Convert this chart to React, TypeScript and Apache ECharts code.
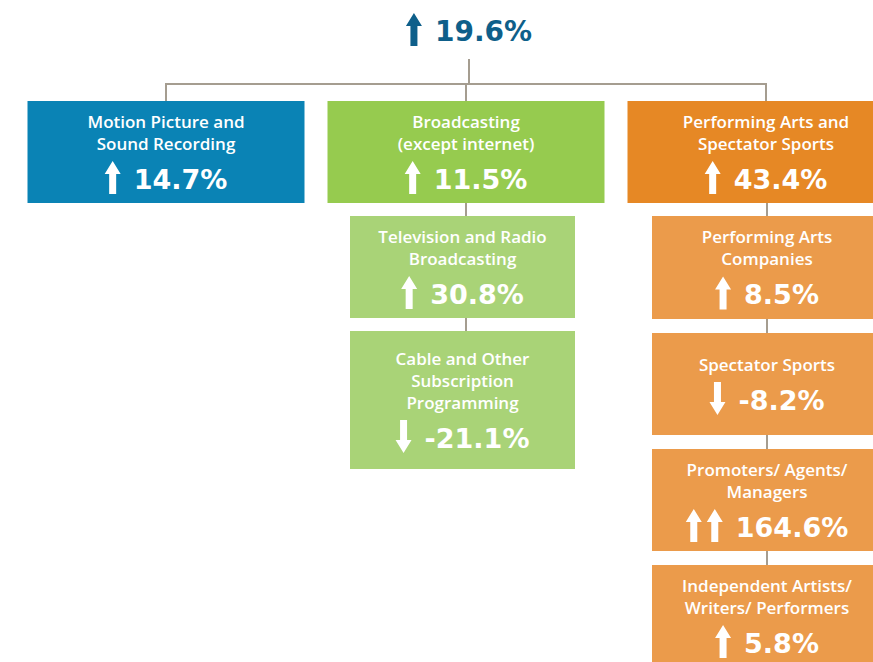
import React, { useEffect, useRef } from "react";
import * as echarts from "echarts";

// ---- data ----
const totalChange = 19.6;
const sectorNames = ["Motion Picture and\nSound Recording", "Broadcasting\n(except internet)", "Performing Arts and\nSpectator Sports"];
const sectorChanges = [14.7, 11.5, 43.4];
const broadcastingNames = ["Television and Radio\nBroadcasting", "Cable and Other\nSubscription\nProgramming"];
const broadcastingChanges = [30.8, -21.1];
const performingNames = ["Performing Arts\nCompanies", "Spectator Sports", "Promoters/ Agents/\nManagers", "Independent Artists/\nWriters/ Performers"];
const performingChanges = [8.5, -8.2, 164.6, 5.8];

// ---- style / layout ----
const LABEL_FONT = "'Open Sans', sans-serif";
const PCT_FONT = "'DejaVu Sans', sans-serif";
const LINE_COLOR = "#A59D90";
const TOTAL_COLOR = "#0E5F8A";
const sectorColors = ["#0A83B5", "#96CB4F", "#E68825"];
const subColors = ["#A9D377", "#EB9B4B"];

function measure(text: string, font: string) {
  const c = document.createElement("canvas").getContext("2d")!;
  c.font = font;
  return c.measureText(text).width;
}

function arrow(cx: number, y0: number, y1: number, up: boolean, color: string) {
  const hh = 13, hw = 8, sw = 3.5;
  let pts: number[][];
  if (up) {
    pts = [[cx, y0], [cx + hw, y0 + hh], [cx + sw, y0 + hh], [cx + sw, y1], [cx - sw, y1], [cx - sw, y0 + hh], [cx - hw, y0 + hh]];
  } else {
    pts = [[cx, y1], [cx + hw, y1 - hh], [cx + sw, y1 - hh], [cx + sw, y0], [cx - sw, y0], [cx - sw, y1 - hh], [cx - hw, y1 - hh]];
  }
  return { type: "polygon", shape: { points: pts }, style: { fill: color } };
}

function pctLabel(v: number) {
  return v.toFixed(1) + "%";
}

function valueRow(cx: number, cy: number, v: number, color: string, fontSize: number) {
  const txt = pctLabel(v);
  const font = `bold ${fontSize}px ${PCT_FONT}`;
  const tw = measure(txt, font);
  const nArrows = Math.abs(v) >= 100 ? 2 : 1;
  const aw = 16, aGap = 5, gap = 13;
  const arrowsW = nArrows * aw + (nArrows - 1) * aGap;
  const total = arrowsW + gap + tw;
  const left = cx - total / 2;
  const els: any[] = [];
  for (let i = 0; i < nArrows; i++) {
    const ax = left + aw / 2 + i * (aw + aGap);
    els.push(arrow(ax, cy - 17, cy + 16, v >= 0, color));
  }
  els.push({
    type: "text",
    x: left + arrowsW + gap,
    y: cy + 1,
    style: { text: txt, font, fill: color, textAlign: "left", textVerticalAlign: "middle" },
  });
  return els;
}

function box(x: number, y: number, w: number, h: number, fill: string, name: string, v: number) {
  const lines = name.split("\n");
  const n = lines.length;
  const blockH = 40 + 22 * n;
  const top = y + (h - blockH) / 2;
  const cx = x + w / 2;
  const els: any[] = [{ type: "rect", shape: { x, y, width: w, height: h }, style: { fill } }];
  lines.forEach((ln, i) => {
    els.push({
      type: "text",
      x: cx,
      y: top + 11 + 22 * i,
      style: { text: ln, font: `600 17px ${LABEL_FONT}`, fill: "#fff", textAlign: "center", textVerticalAlign: "middle" },
    });
  });
  const pc = top + 11 + 22 * (n - 1) + 35;
  els.push(...valueRow(cx, pc, v, "#fff", 27));
  return els;
}

function line(x1: number, y1: number, x2: number, y2: number) {
  return { type: "line", shape: { x1, y1, x2, y2 }, style: { stroke: LINE_COLOR, lineWidth: 2 } };
}

function buildGraphics() {
  const els: any[] = [];
  const colCenters = [166, 466, 766];
  const topY = 101, topH = 102, topW = 277;
  // connectors
  els.push(line(469, 59, 469, 84));
  els.push(line(colCenters[0] - 1, 84, colCenters[2] + 1, 84));
  colCenters.forEach((c) => els.push(line(c, 84, c, topY)));
  // broadcasting subs
  const bx = 350, bw = 225, bHeights = [102, 138], gap = 13;
  const perfX = 652, perfW = 230, pHeights = [103, 102, 102, 102], pGap = 14;
  let yy = 216;
  els.push(line(466, topY + topH, 466, yy));
  const bBoxes: any[] = [];
  broadcastingNames.forEach((nm, i) => {
    if (i > 0) {
      els.push(line(466, yy - gap, 466, yy));
    }
    bBoxes.push(...box(bx, yy, bw, bHeights[i], subColors[0], nm, broadcastingChanges[i]));
    yy += bHeights[i] + gap;
  });
  yy = 216;
  els.push(line(767, topY + topH, 767, yy));
  const pBoxes: any[] = [];
  performingNames.forEach((nm, i) => {
    if (i > 0) {
      els.push(line(767, yy - pGap, 767, yy));
    }
    pBoxes.push(...box(perfX, yy, perfW, pHeights[i], subColors[1], nm, performingChanges[i]));
    yy += pHeights[i] + pGap;
  });
  // top sector boxes
  sectorNames.forEach((nm, i) => {
    els.push(...box(colCenters[i] - topW / 2, topY, topW, topH, sectorColors[i], nm, sectorChanges[i]));
  });
  els.push(...bBoxes, ...pBoxes);
  // total
  els.push(...valueRow(469, 30, totalChange, TOTAL_COLOR, 28));
  return els;
}

export default function App() {
  const ref = useRef<HTMLDivElement>(null);
  useEffect(() => {
    if (!ref.current) return;
    const chart = echarts.init(ref.current, undefined, { renderer: "svg" });
    chart.setOption({
      animation: false,
      graphic: { elements: buildGraphics() },
    });
    return () => chart.dispose();
  }, []);
  return <div ref={ref} style={{ width: 873, height: 662, position: "fixed", left: 0, top: 0, background: "#fff" }} />;
}
